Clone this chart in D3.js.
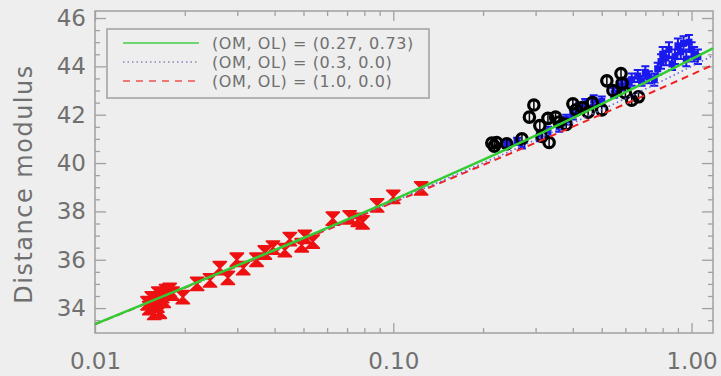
<!DOCTYPE html>
<html>
<head>
<meta charset="utf-8">
<script src="https://cdn.jsdelivr.net/npm/d3@7"></script>
<style>
  html, body { margin: 0; padding: 0; background: #eeeeee; }
  svg { display: block; }
  text { font-family: 'DejaVu Sans', sans-serif; fill: #707070; }
</style>
</head>
<body>
<div id="chart"></div>
<script>
/* global d3 */

// low-z supernovae (red)
const redZ = [0.0150, 0.0152, 0.0155, 0.0158, 0.0160, 0.0162, 0.0163, 0.0165, 0.0168, 0.0170,
  0.0173, 0.0178, 0.0182, 0.0197, 0.0220, 0.0243, 0.0262, 0.0279, 0.0299, 0.0314, 0.0348,
  0.0371, 0.0395, 0.0433, 0.0450, 0.0493, 0.0505, 0.0537, 0.0627, 0.0714, 0.0760, 0.0789,
  0.0883, 0.1000, 0.1240]
const redMu = [34.2, 34.0, 34.4, 33.8, 34.3, 34.1, 34.6, 33.85, 34.5, 34.3,
  34.7, 34.75, 34.6, 34.45, 35.0, 35.15, 35.65, 35.25, 36.0, 35.65, 36.0,
  36.3, 36.5, 36.4, 36.85, 36.6, 36.95, 36.75, 37.7, 37.75, 37.65, 37.55,
  38.25, 38.6, 38.95]

// high-z supernovae (black circles)
const blackZ = [0.214, 0.218, 0.222, 0.240, 0.270, 0.286, 0.296, 0.310, 0.315, 0.330, 0.333,
  0.350, 0.360, 0.380, 0.400, 0.410, 0.430, 0.450, 0.465, 0.500, 0.520, 0.545, 0.580, 0.585,
  0.600, 0.630, 0.664]
const blackMu = [40.83, 40.7, 40.85, 40.8, 41.0, 41.9, 42.4, 41.55, 41.1, 41.85, 40.85,
  41.9, 41.7, 41.6, 42.45, 42.2, 42.3, 42.1, 42.5, 42.2, 43.4, 43.0, 43.7, 43.3,
  42.9, 42.6, 42.74]

// high-z supernovae (blue)
const blueZ = [0.24, 0.26, 0.27, 0.31, 0.33, 0.36, 0.38, 0.40, 0.42, 0.44, 0.47, 0.50, 0.55,
  0.58, 0.61, 0.63, 0.66, 0.68, 0.70, 0.72, 0.75, 0.77, 0.79, 0.80, 0.82, 0.84, 0.86, 0.88,
  0.90, 0.92, 0.94, 0.96, 0.98, 1.00, 1.02, 1.05]
const blueMu = [40.8, 40.9, 40.75, 41.1, 41.3, 41.5, 41.8, 42.0, 42.3, 42.45, 42.6, 42.55, 42.9,
  43.2, 43.3, 43.45, 43.6, 43.4, 43.75, 43.55, 43.45, 43.9, 44.2, 44.5, 44.35, 44.7, 44.1, 44.4,
  44.85, 44.6, 44.95, 44.3, 45.0, 44.7, 44.5, 44.4]
const blueErr = [0.15, 0.15, 0.15, 0.2, 0.2, 0.2, 0.2, 0.2, 0.2, 0.2, 0.2, 0.2, 0.2,
  0.2, 0.2, 0.25, 0.25, 0.2, 0.25, 0.25, 0.25, 0.25, 0.3, 0.3, 0.3, 0.3, 0.25, 0.3,
  0.3, 0.3, 0.3, 0.3, 0.3, 0.3, 0.3, 0.3]

// model curves
const modelZ = [0.01, 0.02, 0.05, 0.1, 0.2, 0.3, 0.5, 0.7, 1.0, 1.18]
const lcdmMu = [33.34, 34.86, 36.90, 38.48, 40.13, 41.13, 42.45, 43.34, 44.30, 44.75]
const openMu = [33.33, 34.85, 36.87, 38.41, 40.00, 40.96, 42.21, 43.06, 44.00, 44.45]
const edsMu = [33.33, 34.84, 36.84, 38.37, 39.92, 40.84, 42.02, 42.81, 43.66, 44.06]

const legendLabels = ['(OM, OL) = (0.27, 0.73)', '(OM, OL) = (0.3, 0.0)', '(OM, OL) = (1.0, 0.0)']
const xTicks = [0.01, 0.1, 1]
const yTicks = [34, 36, 38, 40, 42, 44, 46]

const width = 721
const height = 376
const plot = { left: 95, top: 11, right: 713, bottom: 333 }

const svg = d3.select('#chart').append('svg').attr('width', width).attr('height', height)

const x = d3.scaleLog().domain([0.01, 1.18]).range([plot.left, plot.right])
const y = d3.scaleLinear().domain([32.97, 46.29]).range([plot.bottom, plot.top])

const xMinor = [...d3.range(2, 10).map(d => d * 0.01), ...d3.range(2, 10).map(d => d * 0.1)]
const yMinor = d3.range(33.5, 46.3, 0.5).filter(d => d % 2 !== 0)

const axisColor = '#a0a0a0'
const styleAxis = g => {
  g.select('.domain').remove()
  g.selectAll('line').attr('stroke', axisColor).attr('stroke-width', 1.3)
  g.selectAll('text').style('font-size', '23px').attr('fill', '#707070')
}

// bottom
svg.append('g').attr('transform', `translate(0,${plot.bottom})`)
  .call(d3.axisBottom(x).tickValues(xTicks).tickSize(-10).tickPadding(20)
    .tickFormat(d3.format('.2f')))
  .call(styleAxis)
svg.append('g').attr('transform', `translate(0,${plot.bottom})`)
  .call(d3.axisBottom(x).tickValues(xMinor).tickSize(-5).tickFormat(''))
  .call(styleAxis)
// top
svg.append('g').attr('transform', `translate(0,${plot.top})`)
  .call(d3.axisTop(x).tickValues(xTicks).tickSize(-10).tickFormat(''))
  .call(styleAxis)
svg.append('g').attr('transform', `translate(0,${plot.top})`)
  .call(d3.axisTop(x).tickValues(xMinor).tickSize(-5).tickFormat(''))
  .call(styleAxis)
// left
svg.append('g').attr('transform', `translate(${plot.left},0)`)
  .call(d3.axisLeft(y).tickValues(yTicks).tickSize(-11).tickPadding(9))
  .call(styleAxis)
svg.append('g').attr('transform', `translate(${plot.left},0)`)
  .call(d3.axisLeft(y).tickValues(yMinor).tickSize(-5).tickFormat(''))
  .call(styleAxis)
// right
svg.append('g').attr('transform', `translate(${plot.right},0)`)
  .call(d3.axisRight(y).tickValues(yTicks).tickSize(-11).tickFormat(''))
  .call(styleAxis)
svg.append('g').attr('transform', `translate(${plot.right},0)`)
  .call(d3.axisRight(y).tickValues(yMinor).tickSize(-5).tickFormat(''))
  .call(styleAxis)

svg.append('rect')
  .attr('x', plot.left).attr('y', plot.top)
  .attr('width', plot.right - plot.left).attr('height', plot.bottom - plot.top)
  .attr('fill', 'none').attr('stroke', axisColor).attr('stroke-width', 1.5)

svg.append('text')
  .attr('transform', 'translate(32,184) rotate(-90)')
  .attr('text-anchor', 'middle')
  .style('font-size', '24px')
  .style('letter-spacing', '1.5px')
  .text('Distance modulus')

const dataLayer = svg.append('g')

// red points: hourglass markers
const red = redZ.map((z, i) => ({ z, mu: redMu[i] }))
dataLayer.append('g').selectAll('path').data(red).enter().append('path')
  .attr('transform', d => `translate(${x(d.z)},${y(d.mu)})`)
  .attr('d', 'M-6.5,-6.5L6.5,-6.5L0,0L6.5,6.5L-6.5,6.5L0,0Z')
  .attr('fill', '#ee1111').attr('stroke', '#ee1111').attr('stroke-width', 1.8)
  .attr('stroke-linejoin', 'round')

// blue points: error bars with caps
const blue = blueZ.map((z, i) => ({ z, mu: blueMu[i], err: blueErr[i] }))
const blueG = dataLayer.append('g').attr('stroke', '#1a1aee').attr('stroke-width', 2)
blueG.selectAll('path').data(blue).enter().append('path')
  .attr('fill', 'none')
  .attr('d', d => {
    const cx = x(d.z), y0 = y(d.mu - d.err), y1 = y(d.mu + d.err)
    return `M${cx},${y0}L${cx},${y1}M${cx - 4},${y0}L${cx + 4},${y0}M${cx - 4},${y1}L${cx + 4},${y1}`
  })
blueG.selectAll('rect').data(blue).enter().append('rect')
  .attr('x', d => x(d.z) - 2.5).attr('y', d => y(d.mu) - 2.5)
  .attr('width', 5).attr('height', 5).attr('fill', '#1a1aee')

// black points: open circles
const black = blackZ.map((z, i) => ({ z, mu: blackMu[i] }))
const blackG = dataLayer.append('g')
blackG.selectAll('circle').data(black).enter().append('circle')
  .attr('cx', d => x(d.z)).attr('cy', d => y(d.mu)).attr('r', 5.2)
  .attr('fill', 'none').attr('stroke', '#000').attr('stroke-width', 3.2)
blackG.selectAll('line').data(black).enter().append('line')
  .attr('x1', d => x(d.z)).attr('x2', d => x(d.z))
  .attr('y1', d => y(d.mu) - 4).attr('y2', d => y(d.mu) + 4)
  .attr('stroke', '#000').attr('stroke-width', 1.5)

// model curves
const line = d3.line().x(d => x(d[0])).y(d => y(d[1])).curve(d3.curveMonotoneX)
const curves = [
  { mu: edsMu, color: '#ee2222', width: 2, dash: '7,5' },
  { mu: openMu, color: '#6666dd', width: 1.6, dash: '1.5,3' },
  { mu: lcdmMu, color: '#33cc33', width: 2.5, dash: null }
]
svg.append('g').selectAll('path').data(curves).enter().append('path')
  .attr('d', c => line(modelZ.map((z, i) => [z, c.mu[i]])))
  .attr('fill', 'none')
  .attr('stroke', c => c.color)
  .attr('stroke-width', c => c.width)
  .attr('stroke-dasharray', c => c.dash)

// legend
const legendItems = [
  { label: legendLabels[0], color: '#44cc44', width: 1.5, dash: null },
  { label: legendLabels[1], color: '#8888bb', width: 1.3, dash: '1.5,3' },
  { label: legendLabels[2], color: '#ee7777', width: 1.8, dash: '7,6' }
]
const legend = svg.append('g')
legend.append('rect')
  .attr('x', 107).attr('y', 29).attr('width', 322).attr('height', 69)
  .attr('fill', '#eeeeee').attr('stroke', axisColor).attr('stroke-width', 1.5)
const rows = legend.selectAll('g.row').data(legendItems).enter().append('g')
  .attr('transform', (d, i) => `translate(0,${43 + i * 19})`)
rows.append('line')
  .attr('x1', 123).attr('x2', 199)
  .attr('stroke', d => d.color).attr('stroke-width', d => d.width)
  .attr('stroke-dasharray', d => d.dash)
rows.append('text')
  .attr('x', 212).attr('y', 6)
  .style('font-size', '16px')
  .style('letter-spacing', '0.6px')
  .text(d => d.label)
</script>
</body>
</html>
